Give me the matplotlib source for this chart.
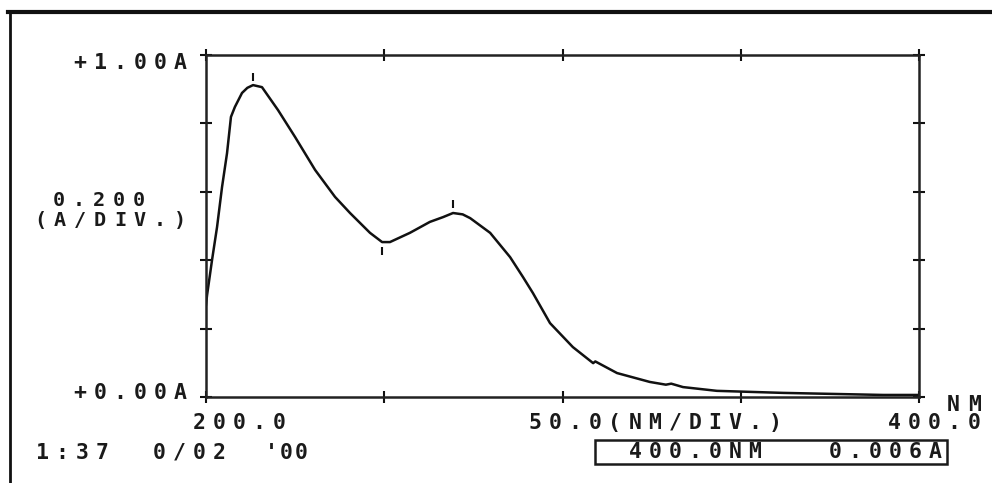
import numpy as np
import matplotlib.pyplot as plt
from matplotlib.lines import Line2D
from matplotlib.patches import Rectangle

# spectrum (nm, absorbance A)
wavelength_nm = [200.0, 200.3, 201.7, 203.1, 204.5, 205.9, 207.0, 208.1, 210.1, 211.6,
                 213.2, 215.7, 220.2, 225.0, 230.6, 236.2, 240.4, 246.0, 249.4, 251.6,
                 257.2, 262.8, 266.5, 269.3, 272.0, 274.1, 279.7, 285.3, 288.9, 291.7,
                 296.5, 302.9, 308.6, 309.2, 315.3, 324.5, 329.0, 330.5, 333.8, 343.3,
                 352.6, 361.9, 375.9, 389.9, 400.0]
absorbance = [0.27, 0.298, 0.401, 0.497, 0.614, 0.713, 0.819, 0.848, 0.889, 0.904,
              0.912, 0.906, 0.839, 0.760, 0.664, 0.585, 0.538, 0.480, 0.453, 0.453,
              0.480, 0.512, 0.526, 0.538, 0.534, 0.523, 0.480, 0.409, 0.351, 0.304,
              0.216, 0.146, 0.099, 0.104, 0.070, 0.044, 0.036, 0.039, 0.029, 0.018,
              0.015, 0.012, 0.009, 0.006, 0.006]

x_ticks = [200, 250, 300, 350, 400]
y_ticks = [0.0, 0.2, 0.4, 0.6, 0.8, 1.0]

W, H = 992, 483
fig = plt.figure(figsize=(W / 100, H / 100), dpi=100)
fig.patch.set_facecolor('white')

ax = fig.add_axes([206 / W, 1 - 397 / H, (919 - 206) / W, (397 - 55) / H])
ax.plot(wavelength_nm, absorbance, color='#111111', lw=1.8, solid_joinstyle='round')

# little peak / valley marks the recorder puts on the trace
a = np.array(absorbance)
w = np.array(wavelength_nm)
p1 = np.argmax(a)
v1 = 18 + np.argmin(a[18:21])
p2 = 21 + np.argmax(a[21:27])
ax.plot([w[p1], w[p2]], [a[p1] + 0.025, a[p2] + 0.025], ls='none',
        marker='|', ms=6, mew=1.5, color='#111111')
ax.plot([w[v1]], [a[v1] - 0.025], ls='none', marker='|', ms=6, mew=1.5, color='#111111')

ax.set_xlim(200, 400)
ax.set_ylim(0, 1)
ax.set_xticks(x_ticks)
ax.set_yticks(y_ticks)
ax.tick_params(direction='inout', length=8, width=1.5, top=True, right=True,
               labelbottom=False, labelleft=False, color='#111111')
for s in ax.spines.values():
    s.set_linewidth(1.8)
    s.set_color('#222222')


def grid_text(s, left, y, pitch=20, size=15.5):
    # dot-matrix style: one character per fixed cell
    for i, ch in enumerate(s):
        cx = left + 7 + i * pitch
        fig.text(cx / W, 1 - y / H, ch, ha='center', va='center',
                 family='DejaVu Sans Mono', weight='bold', size=size, color='#1a1a1a')


grid_text("+1.00A", 73, 63)
grid_text("0.200", 52, 200, size=14.5)
grid_text("(A/DIV.)", 33, 221, size=14.5)
grid_text("+0.00A", 73, 393)
grid_text("200.0", 192, 423)
grid_text("50.0(NM/DIV.)", 528, 423)
grid_text("400.0", 887, 423)
grid_text("NM", 946, 405, pitch=22)
grid_text("1:37", 35, 453, pitch=20)
grid_text("0/02", 152, 453)
grid_text("'00", 264, 453, pitch=15)
grid_text("400.0NM", 628, 452)
grid_text("0.006A", 828, 452)

fig.add_artist(Rectangle((595 / W, 1 - 464 / H), (947 - 595) / W, 24 / H,
                         transform=fig.transFigure, fill=False, lw=1.8, ec='#1a1a1a'))

# edge of the scanned sheet
fig.add_artist(Line2D([8 / W, 1], [1 - 12 / H, 1 - 12 / H], lw=3, color='#111111'))
fig.add_artist(Line2D([10 / W, 10 / W], [0, 1 - 11 / H], lw=2, color='#111111'))

fig.savefig('out.png', dpi=100, facecolor='white')
